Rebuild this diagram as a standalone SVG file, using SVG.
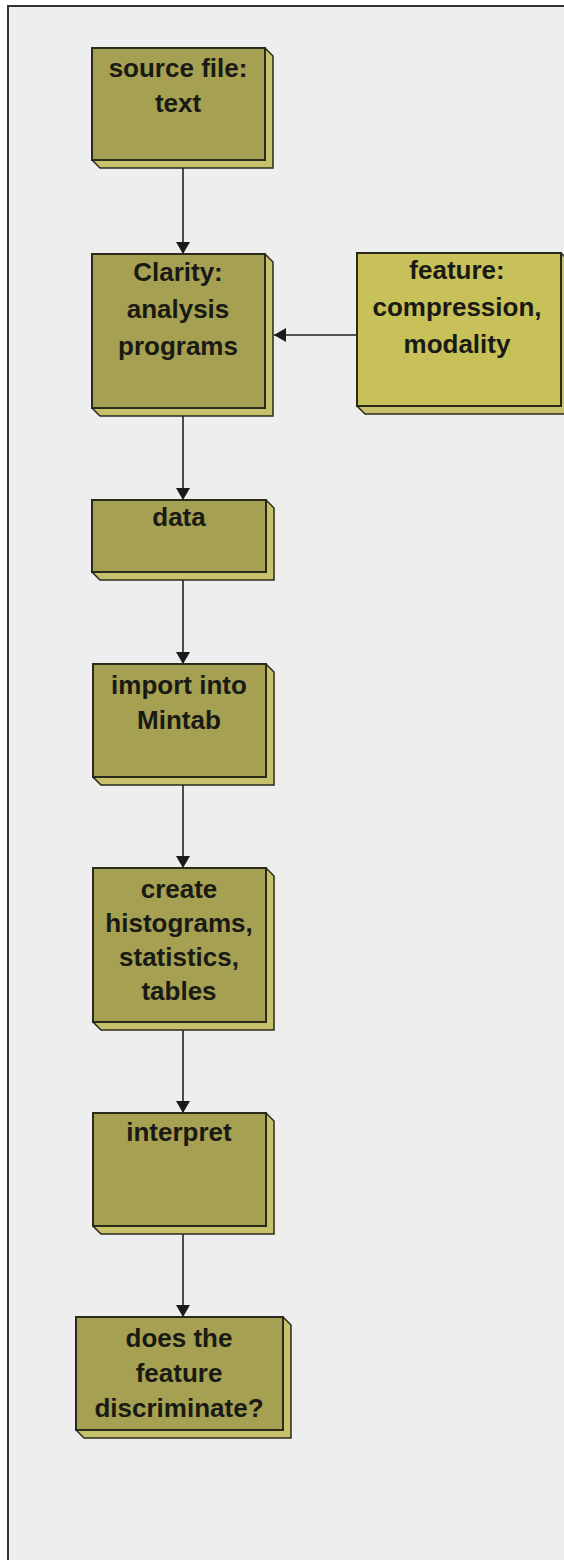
<svg xmlns="http://www.w3.org/2000/svg" width="564" height="1560" viewBox="0 0 564 1560">
<defs>
<style>
.side{fill:#c6c16a;stroke:#2a2a1a;stroke-width:1.5}
.face{fill:#a5a052;stroke:#2a2a1a;stroke-width:2}
.face2{fill:#c8c15a;stroke:#2a2a1a;stroke-width:2}
.lbl{font-family:"Liberation Sans",Arial,sans-serif;font-weight:bold;font-size:26px;fill:#1a1a14;text-anchor:middle}
.conn{stroke:#222;stroke-width:1.6;fill:none;marker-end:url(#ah)}
</style>
<marker id="ah" viewBox="0 0 12 14" refX="12" refY="7" markerWidth="12" markerHeight="14" markerUnits="userSpaceOnUse" orient="auto">
<path d="M0,0 L12,7 L0,14 Z" fill="#1a1a1a"/>
</marker>
</defs>
<rect x="0" y="0" width="564" height="1560" fill="#ffffff"/>
<rect x="8" y="6" width="560" height="1560" fill="#eeeeee" stroke="#333" stroke-width="2"/>

<g id="connectors">
<line class="conn" x1="183" y1="168" x2="183" y2="254"/>
<line class="conn" x1="357" y1="335" x2="274" y2="335"/>
<line class="conn" x1="183" y1="416" x2="183" y2="500"/>
<line class="conn" x1="183" y1="580" x2="183" y2="664"/>
<line class="conn" x1="183" y1="785" x2="183" y2="868"/>
<line class="conn" x1="183" y1="1030" x2="183" y2="1113"/>
<line class="conn" x1="183" y1="1234" x2="183" y2="1317"/>
</g>

<g id="n-source">
<polygon class="side" points="265,48 273,56 273,168 100,168 92,160"/>
<rect class="face" x="92" y="48" width="173" height="112"/>
<text class="lbl" x="178" y="77">source file:</text>
<text class="lbl" x="178" y="112">text</text>
</g>

<g id="n-clarity">
<polygon class="side" points="265,254 273,262 273,416 100,416 92,408"/>
<rect class="face" x="92" y="254" width="173" height="154"/>
<text class="lbl" x="178" y="281">Clarity:</text>
<text class="lbl" x="178" y="318">analysis</text>
<text class="lbl" x="178" y="355">programs</text>
</g>

<g id="n-feature">
<polygon class="side" points="561,253 569,261 569,414 365,414 357,406"/>
<rect class="face2" x="357" y="253" width="204" height="153"/>
<text class="lbl" x="457" y="279">feature:</text>
<text class="lbl" x="457" y="316">compression,</text>
<text class="lbl" x="457" y="353">modality</text>
</g>

<g id="n-data">
<polygon class="side" points="266,500 274,508 274,580 100,580 92,572"/>
<rect class="face" x="92" y="500" width="174" height="72"/>
<text class="lbl" x="179" y="526">data</text>
</g>

<g id="n-import">
<polygon class="side" points="266,664 274,672 274,785 101,785 93,777"/>
<rect class="face" x="93" y="664" width="173" height="113"/>
<text class="lbl" x="179" y="694">import into</text>
<text class="lbl" x="179" y="729">Mintab</text>
</g>

<g id="n-create">
<polygon class="side" points="266,868 274,876 274,1030 101,1030 93,1022"/>
<rect class="face" x="93" y="868" width="173" height="154"/>
<text class="lbl" x="179" y="898">create</text>
<text class="lbl" x="179" y="932">histograms,</text>
<text class="lbl" x="179" y="966">statistics,</text>
<text class="lbl" x="179" y="1000">tables</text>
</g>

<g id="n-interpret">
<polygon class="side" points="266,1113 274,1121 274,1234 101,1234 93,1226"/>
<rect class="face" x="93" y="1113" width="173" height="113"/>
<text class="lbl" x="179" y="1141">interpret</text>
</g>

<g id="n-discriminate">
<polygon class="side" points="283,1317 291,1325 291,1438 84,1438 76,1430"/>
<rect class="face" x="76" y="1317" width="207" height="113"/>
<text class="lbl" x="179" y="1347">does the</text>
<text class="lbl" x="179" y="1382">feature</text>
<text class="lbl" x="179" y="1417">discriminate?</text>
</g>
</svg>
